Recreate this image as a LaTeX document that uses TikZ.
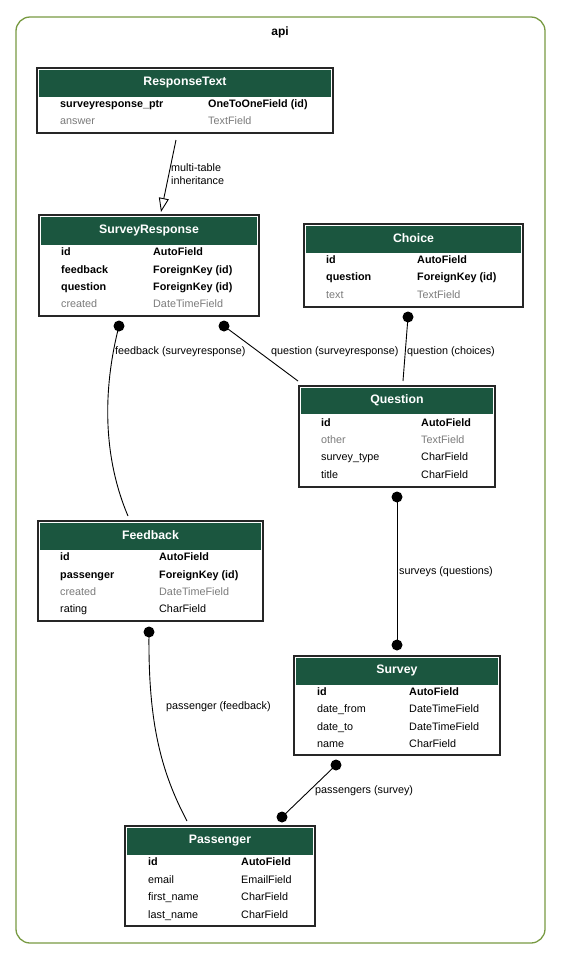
\documentclass[tikz,border=0pt]{standalone}
\usepackage{fontspec}
\setmainfont{Liberation Sans}
\usetikzlibrary{arrows.meta,calc}
\definecolor{hdrgreen}{HTML}{1B563F}
\definecolor{clustercol}{HTML}{789A42}
\definecolor{dimgray}{HTML}{7B7B7B}
\tikzset{
  tablebox/.style={draw=black!85, line width=1.2pt, fill=white, inner sep=0pt, outer sep=0pt, anchor=north west},
  hdrtitle/.style={text=white, inner sep=0pt, font=\bfseries\fontsize{12.3}{14}\selectfont},
  fld/.style={anchor=west, inner sep=0pt, yshift=-1.2pt, font=\fontsize{10.8}{12}\selectfont, text height=7.5pt, text depth=2pt},
  key/.style={fld, font=\bfseries\fontsize{10.8}{12}\selectfont},
  dim/.style={fld, text=dimgray},
  rel/.style={line width=0.9pt, draw=black},
  elabel/.style={anchor=west, inner sep=0pt, font=\fontsize{10.8}{13}\selectfont, align=left},
}
\newcommand\dbtable[7]{%
  \node[tablebox, minimum width={(#4-#2)*1pt}, minimum height={(#5-#3)*1pt}] (#1) at (#2,#3) {};
  \fill[hdrgreen] ({#2+1.8},{#3+1.8}) rectangle ({#4-1.8},#6);
  \node[hdrtitle] (#1title) at ({(#2+#4)/2},{(#3+#6)/2}) {#7};
}
\newcommand\frow[8]{%
  \node[#6] (#1n#2) at (#4,#3) {#7};
  \node[#6] (#1t#2) at (#5,#3) {#8};
}
\begin{document}
\begin{tikzpicture}[x=1pt, y=-1pt]
\useasboundingbox (0,0) rectangle (560,959);
% cluster
\node[draw=clustercol, line width=1.3pt, rounded corners=14pt, minimum width=529pt, minimum height=926pt, inner sep=0pt, outer sep=0pt, anchor=north west] (api) at (16,17) {};
\node[font=\bfseries\fontsize{12}{14}\selectfont, inner sep=0pt] (apititle) at (280,32) {api};

% ResponseText
\dbtable{rt}{37}{68}{333}{133}{97}{ResponseText}
\frow{rt}{1}{104}{60}{208}{key}{surveyresponse\_ptr}{OneToOneField (id)}
\frow{rt}{2}{121}{60}{208}{dim}{answer}{TextField}

% SurveyResponse
\dbtable{sr}{39}{215}{259}{316}{245}{SurveyResponse}
\frow{sr}{1}{252}{61}{153}{key}{id}{AutoField}
\frow{sr}{2}{270}{61}{153}{key}{feedback}{ForeignKey (id)}
\frow{sr}{3}{287}{61}{153}{key}{question}{ForeignKey (id)}
\frow{sr}{4}{304}{61}{153}{dim}{created}{DateTimeField}

% Choice
\dbtable{ch}{304}{224}{523}{307}{253}{Choice}
\frow{ch}{1}{260}{326}{417}{key}{id}{AutoField}
\frow{ch}{2}{277}{326}{417}{key}{question}{ForeignKey (id)}
\frow{ch}{3}{295}{326}{417}{dim}{text}{TextField}

% Question
\dbtable{q}{299}{386}{495}{487}{414}{Question}
\frow{q}{1}{423}{321}{421}{key}{id}{AutoField}
\frow{q}{2}{440}{321}{421}{dim}{other}{TextField}
\frow{q}{3}{457}{321}{421}{fld}{survey\_type}{CharField}
\frow{q}{4}{475}{321}{421}{fld}{title}{CharField}

% Feedback
\dbtable{fb}{38}{521}{263}{621}{550}{Feedback}
\frow{fb}{1}{557}{60}{159}{key}{id}{AutoField}
\frow{fb}{2}{575}{60}{159}{key}{passenger}{ForeignKey (id)}
\frow{fb}{3}{592}{60}{159}{dim}{created}{DateTimeField}
\frow{fb}{4}{609}{60}{159}{fld}{rating}{CharField}

% Survey
\dbtable{sv}{294}{656}{500}{755}{685}{Survey}
\frow{sv}{1}{692}{317}{409}{key}{id}{AutoField}
\frow{sv}{2}{709}{317}{409}{fld}{date\_from}{DateTimeField}
\frow{sv}{3}{727}{317}{409}{fld}{date\_to}{DateTimeField}
\frow{sv}{4}{744}{317}{409}{fld}{name}{CharField}

% Passenger
\dbtable{ps}{125}{826}{315}{926}{855}{Passenger}
\frow{ps}{1}{862}{148}{241}{key}{id}{AutoField}
\frow{ps}{2}{880}{148}{241}{fld}{email}{EmailField}
\frow{ps}{3}{897}{148}{241}{fld}{first\_name}{CharField}
\frow{ps}{4}{915}{148}{241}{fld}{last\_name}{CharField}

% edge endpoints (relative to tables)
\coordinate (e1a) at ([xshift=-9pt,yshift=-7pt]rt.south);
\coordinate (e1b) at ([xshift=12pt,yshift=3pt]sr.north);
\coordinate (e2a) at ([xshift=-30pt,yshift=-10pt]sr.south);
\coordinate (e2b) at ([xshift=-22.5pt,yshift=5pt]fb.north);
\coordinate (e3a) at ([xshift=75pt,yshift=-10pt]sr.south);
\coordinate (e3b) at ([xshift=-1pt,yshift=5pt]q.north west);
\coordinate (e4a) at ([xshift=-5.5pt,yshift=-10pt]ch.south);
\coordinate (e4b) at ([xshift=6pt,yshift=5pt]q.north);
\coordinate (e5a) at ([yshift=-10pt]q.south);
\coordinate (e5b) at ([yshift=11pt]sv.north);
\coordinate (e6a) at ([xshift=-1.5pt,yshift=-11pt]fb.south);
\coordinate (e6b) at ([xshift=-33pt,yshift=5pt]ps.north);
\coordinate (e7a) at ([xshift=-61pt,yshift=-10pt]sv.south);
\coordinate (e7b) at ([xshift=62pt,yshift=9pt]ps.north);

% inheritance
\draw[rel, -{Triangle[open, length=14pt, width=10pt, line width=0.9pt]}] (e1a) -- (e1b);
\node[elabel] (l1) at (171,174) {multi-table\\inheritance};

% feedback (surveyresponse)
\draw[rel] (e2a) .. controls (105,380) and (100,450) .. (e2b);
\fill (e2a) circle (5.5pt);
\node[elabel] (l2) at (115,351.5) {feedback (surveyresponse)};

% question (surveyresponse)
\draw[rel] (e3a) -- (e3b);
\fill (e3a) circle (5.5pt);
\node[elabel] (l3) at (271,351.5) {question (surveyresponse)};

% question (choices)
\draw[rel] (e4a) -- (e4b);
\fill (e4a) circle (5.5pt);
\node[elabel] (l4) at (407,351.5) {question (choices)};

% surveys (questions)
\draw[rel] (e5a) -- (e5b);
\fill (e5a) circle (5.5pt);
\fill (e5b) circle (5.5pt);
\node[elabel] (l5) at (399,571.5) {surveys (questions)};

% passenger (feedback)
\draw[rel] (e6a) .. controls (148,720) and (160,770) .. (e6b);
\fill (e6a) circle (5.5pt);
\node[elabel] (l6) at (166,706.5) {passenger (feedback)};

% passengers (survey)
\draw[rel] (e7a) -- (e7b);
\fill (e7a) circle (5.5pt);
\fill (e7b) circle (5.5pt);
\node[elabel] (l7) at (315,790.5) {passengers (survey)};
\end{tikzpicture}
\end{document}
